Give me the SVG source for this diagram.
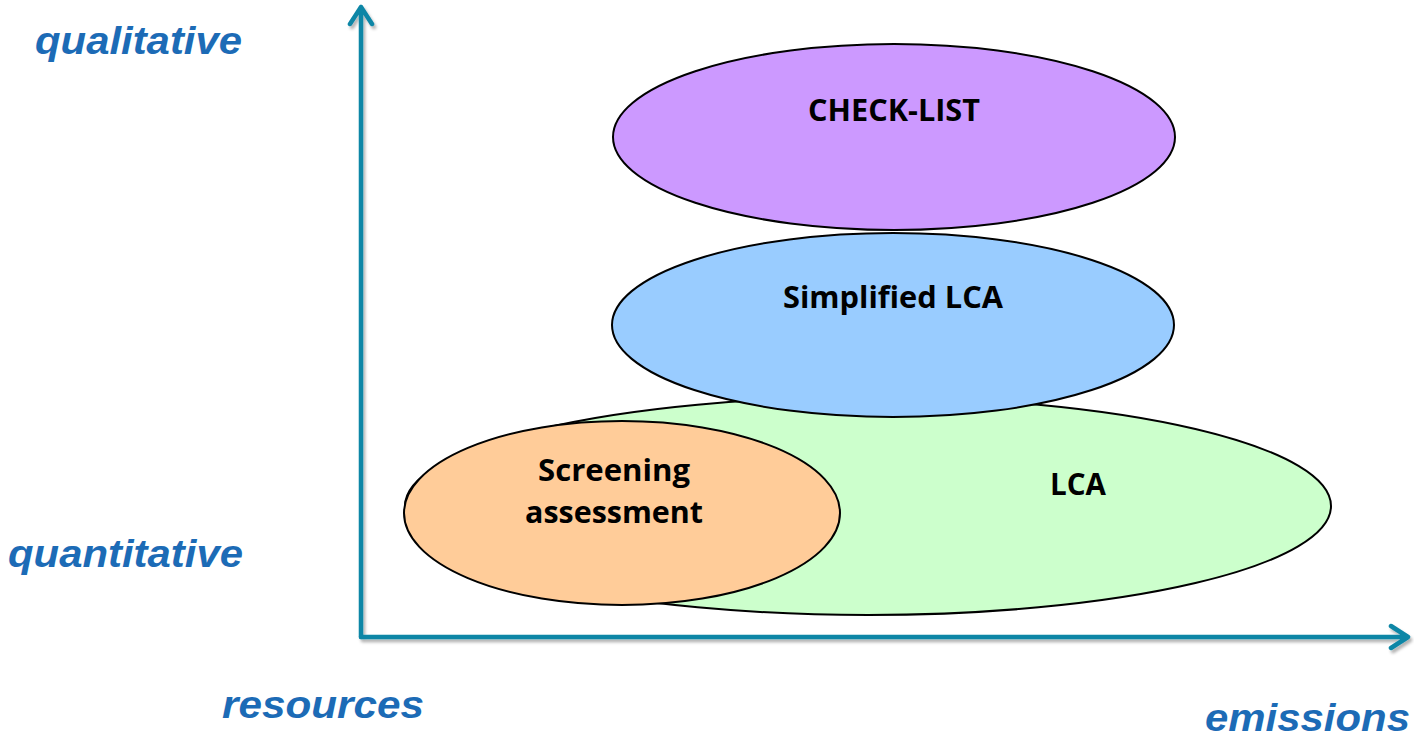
<svg xmlns="http://www.w3.org/2000/svg" width="1414" height="740" viewBox="0 0 1414 740">
<style>
.ax{fill:none;stroke:#0E86A6;stroke-width:4.5;stroke-linecap:round;stroke-linejoin:round}
.el{stroke:#000;stroke-width:2}
.lbl{font-family:"Open Sans","Liberation Sans",Arial,sans-serif;font-weight:bold;font-size:30px;fill:#000}
.axl{font-family:"Liberation Sans",Arial,sans-serif;font-weight:bold;font-style:italic;font-size:39px;fill:#1C6BB6}
</style>
<defs>
<filter id="sh" x="-5%" y="-5%" width="110%" height="110%">
<feDropShadow dx="2" dy="3" stdDeviation="1.5" flood-color="#000" flood-opacity="0.3"/>
</filter>
</defs>
<rect width="1414" height="740" fill="#fff"/>
<g id="connectors" filter="url(#sh)">
<path class="ax" d="M361,637 L361,7 M350,24 L361,7 L372,24"/>
<path class="ax" d="M361,637 L1408,637 M1391,626 L1408,637 L1391,648"/>
</g>
<g id="node-lca">
<ellipse class="el" cx="868" cy="506" rx="463" ry="109" fill="#CCFFCC"/>
<text class="lbl" x="1050" y="495" textLength="56" lengthAdjust="spacingAndGlyphs">LCA</text>
</g>
<g id="node-screening">
<ellipse class="el" cx="622" cy="513" rx="218" ry="92" fill="#FFCC99"/>
<text class="lbl" x="538" y="481" textLength="152" lengthAdjust="spacingAndGlyphs">Screening</text>
<text class="lbl" x="525" y="523" textLength="178" lengthAdjust="spacingAndGlyphs">assessment</text>
</g>
<g id="node-simplified">
<ellipse class="el" cx="893" cy="325" rx="281" ry="92" fill="#99CCFF"/>
<text class="lbl" x="783" y="308" textLength="220" lengthAdjust="spacingAndGlyphs">Simplified LCA</text>
</g>
<g id="node-checklist">
<ellipse class="el" cx="894" cy="137" rx="281" ry="93" fill="#CC99FF"/>
<text class="lbl" x="808" y="121" textLength="172" lengthAdjust="spacingAndGlyphs">CHECK-LIST</text>
</g>
<g id="axis-labels">
<text class="axl" x="35" y="54" textLength="207" lengthAdjust="spacingAndGlyphs">qualitative</text>
<text class="axl" x="8" y="567" textLength="235" lengthAdjust="spacingAndGlyphs">quantitative</text>
<text class="axl" x="222" y="718" textLength="202" lengthAdjust="spacingAndGlyphs">resources</text>
<text class="axl" x="1205" y="731" textLength="205" lengthAdjust="spacingAndGlyphs">emissions</text>
</g>
</svg>
